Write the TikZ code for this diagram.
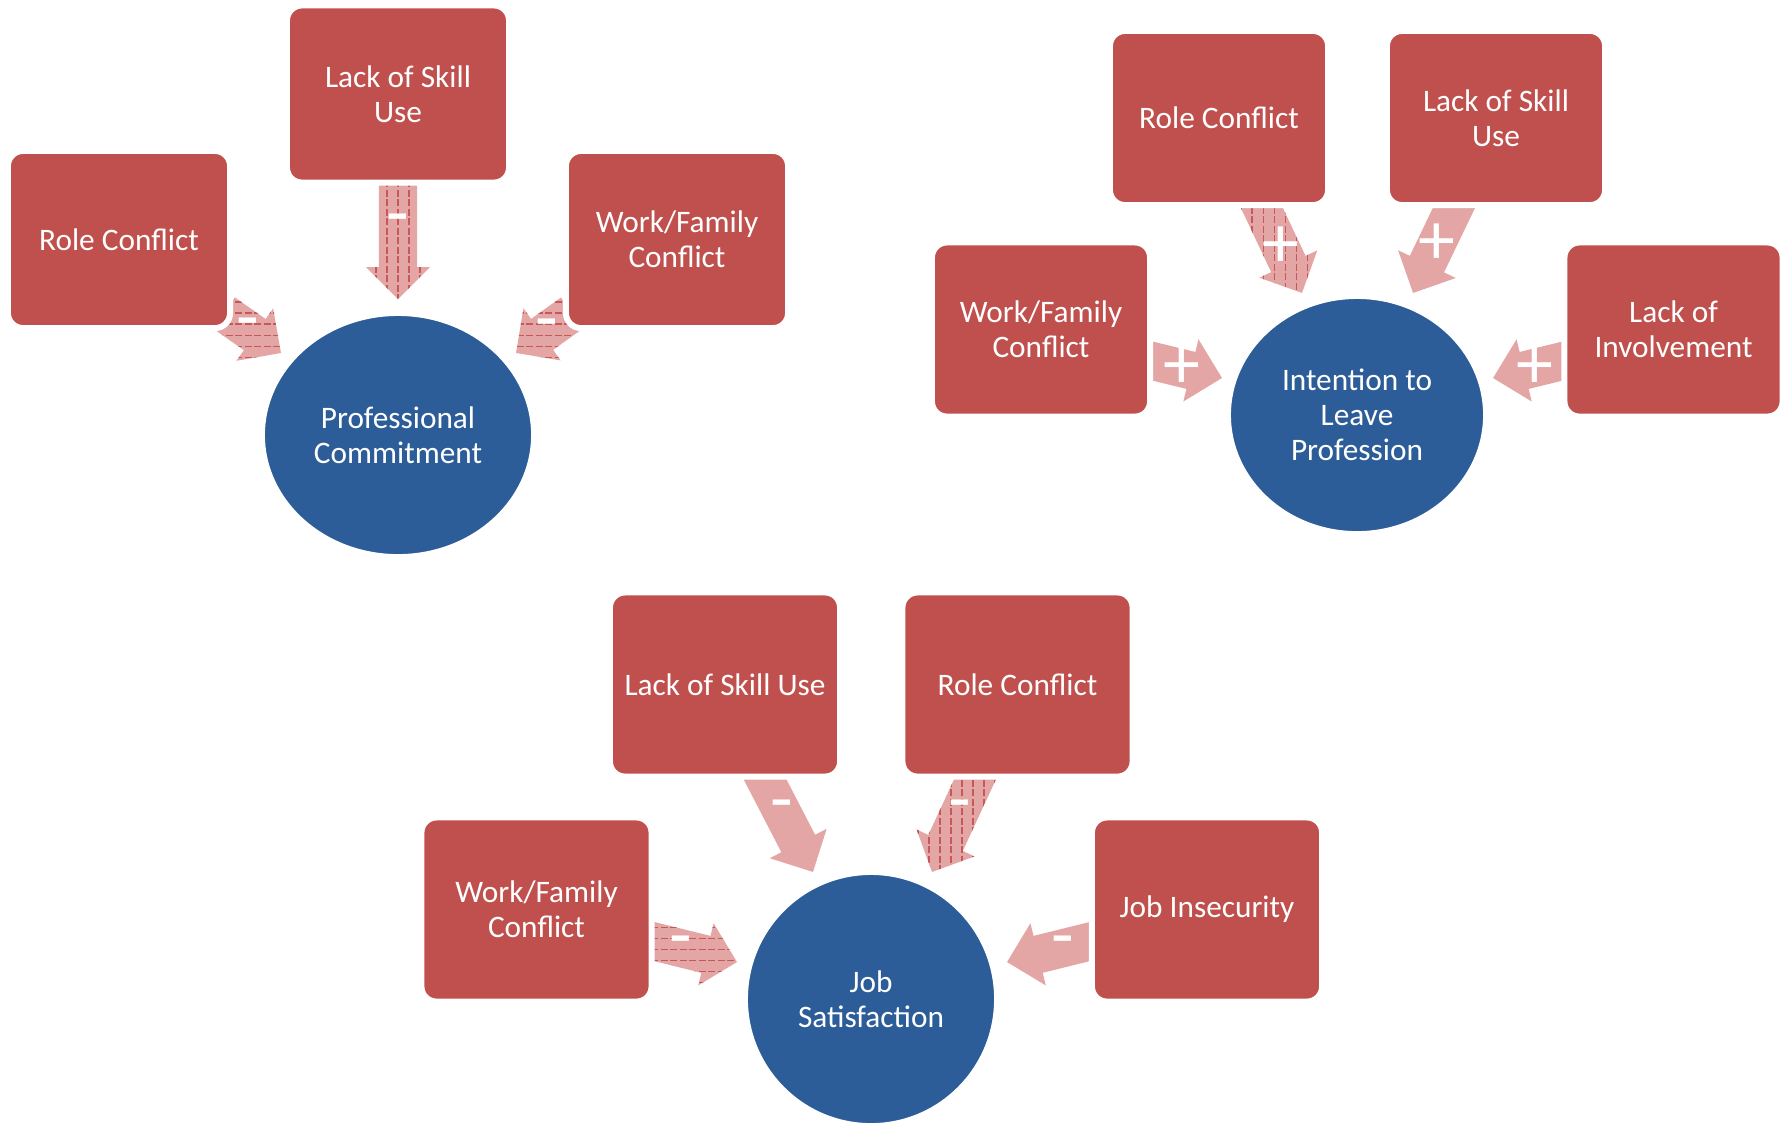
\documentclass[tikz,border=0pt]{standalone}
\usepackage{fontspec}
\setmainfont{Carlito}
\usetikzlibrary{calc,shapes.geometric}

\definecolor{boxred}{HTML}{C0504D}
\definecolor{ovalblue}{HTML}{2C5D98}
\definecolor{arrowpink}{HTML}{E3A6A5}
\definecolor{hatchred}{HTML}{C4585A}

\tikzset{
  factor/.style={rectangle, rounded corners=0.15cm, fill=boxred, draw=white, line width=0.06cm,
    text=white, align=center, inner sep=0pt, font=\fontsize{8.9}{10}\selectfont},
  outcome/.style={ellipse, fill=ovalblue, draw=white, line width=0.02cm,
    text=white, align=center, inner sep=0pt, font=\fontsize{8.9}{10}\selectfont},
  sign/.style={text=white, inner sep=0pt, font=\fontsize{21}{21}\selectfont},
  hatchline/.style={hatchred, line width=0.3pt, dash pattern=on 2pt off 0.7pt},
  boxA/.style={factor, minimum width=2.22cm, minimum height=1.77cm},
  boxB/.style={factor, minimum width=2.18cm, minimum height=1.74cm},
  boxC/.style={factor, minimum width=2.30cm, minimum height=1.84cm},
}

% block arrow from (#1t) to (#1h); #2 hatching h/v/n, #3 sign, #4 sign position
\newcommand\blockarrow[4]{%
  \path let \p1=(#1t), \p2=(#1h) in \pgfextra{%
    \pgfmathsetmacro\arrang{atan2(\y2-\y1,\x2-\x1)}%
    \pgfmathsetmacro\arrlen{veclen(\x2-\x1,\y2-\y1)}%
    \xdef\arrang{\arrang}\xdef\arrlen{\arrlen}};
  \begin{scope}[shift={(#1t)}, rotate=\arrang]
    \def\arrpath{(0pt,-0.19cm) -- (\arrlen pt-0.32cm,-0.19cm) -- (\arrlen pt-0.32cm,-0.32cm)
      -- (\arrlen pt,0pt) -- (\arrlen pt-0.32cm,0.32cm) -- (\arrlen pt-0.32cm,0.19cm) -- (0pt,0.19cm) -- cycle}
    \fill[arrowpink] \arrpath;
    \if#2n\else
    \begin{scope}
      \clip \arrpath;
      \begin{scope}[rotate=-\arrang]
        \if#2h
          \foreach \k in {-13,...,13} \draw[hatchline] (-1.5cm,\k*0.11cm) -- (1.5cm,\k*0.11cm);
        \else
          \foreach \k in {-13,...,13} \draw[hatchline] (\k*0.11cm,-1.5cm) -- (\k*0.11cm,1.5cm);
        \fi
      \end{scope}
    \end{scope}
    \fi
  \end{scope}
  \node[sign] (#1s) at ($(#1t)!#4!(#1h)$) {#3};
}

\begin{document}
\begin{tikzpicture}[x=0.01cm, y=-0.01cm]
  \useasboundingbox (0,0) rectangle (1786,1123);

  % arrow ends
  \coordinate (a1t) at (224,313);  \coordinate (a1h) at (281,353);
  \coordinate (a2t) at (398,170);  \coordinate (a2h) at (398,299);
  \coordinate (a3t) at (572,313);  \coordinate (a3h) at (516,353);
  \coordinate (b1t) at (1252,187); \coordinate (b1h) at (1302,293);
  \coordinate (b2t) at (1464,187); \coordinate (b2h) at (1413,293);
  \coordinate (b3t) at (1140,358); \coordinate (b3h) at (1222,378);
  \coordinate (b4t) at (1575,358); \coordinate (b4h) at (1493,378);
  \coordinate (c1t) at (755,760);  \coordinate (c1h) at (813,872);
  \coordinate (c2t) at (984,760);  \coordinate (c2h) at (932,872);
  \coordinate (c3t) at (640,938);  \coordinate (c3h) at (737,962);
  \coordinate (c4t) at (1104,938); \coordinate (c4h) at (1007,962);

  \blockarrow{a1}{h}{-}{0.42}
  \blockarrow{a2}{v}{-}{0.43}
  \blockarrow{a3}{h}{-}{0.45}
  \blockarrow{b1}{v}{+}{0.57}
  \blockarrow{b2}{n}{+}{0.54}
  \blockarrow{b3}{n}{+}{0.51}
  \blockarrow{b4}{n}{+}{0.49}
  \blockarrow{c1}{n}{-}{0.46}
  \blockarrow{c2}{v}{-}{0.46}
  \blockarrow{c3}{h}{-}{0.42}
  \blockarrow{c4}{n}{-}{0.42}

  % professional commitment
  \node[boxA] (rc1) at (119,239.5) {Role Conflict};
  \node[boxA] (ls1) at (398,94) {Lack of Skill\\Use};
  \node[boxA] (wf1) at (677,239.5) {Work/Family\\Conflict};
  \node[outcome, minimum width=2.68cm, minimum height=2.40cm] (pc) at (398,435) {Professional\\Commitment};

  % intention to leave
  \node[boxB] (rc2) at (1219,118) {Role Conflict};
  \node[boxB] (ls2) at (1496,118) {Lack of Skill\\Use};
  \node[boxB] (wf2) at (1041,329.5) {Work/Family\\Conflict};
  \node[boxB] (li2) at (1673.5,329.5) {Lack of\\Involvement};
  \node[outcome, minimum width=2.54cm, minimum height=2.34cm] (il) at (1357,415) {Intention to\\Leave\\Profession};

  % job satisfaction
  \node[boxC] (ls3) at (725,684.5) {Lack of Skill Use};
  \node[boxC] (rc3) at (1017.5,684.5) {Role Conflict};
  \node[boxC] (wf3) at (536.5,909.5) {Work/Family\\Conflict};
  \node[boxC] (ji3) at (1207,909.5) {Job Insecurity};
  \node[outcome, minimum width=2.48cm, minimum height=2.50cm] (js) at (871,999) {Job\\Satisfaction};
\end{tikzpicture}
\end{document}
